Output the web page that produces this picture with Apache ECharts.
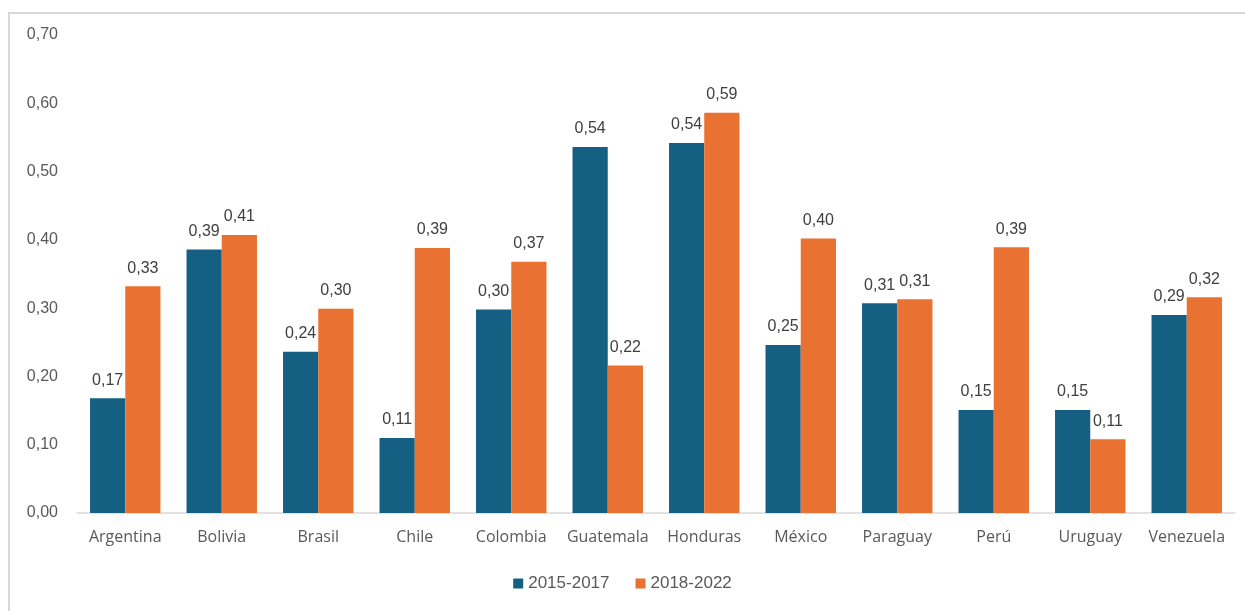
<!DOCTYPE html>
<html>
<head>
<meta charset="utf-8">
<script src="https://cdn.jsdelivr.net/npm/echarts@6/dist/echarts.min.js"></script>
<style>
  html, body { margin: 0; padding: 0; background: #fff; }
  #frame {
    position: absolute; left: 8px; top: 12px; width: 1250px; height: 620px;
    border: 2px solid #d9d9d9; box-sizing: border-box;
  }
  #chart { position: absolute; left: 0; top: 0; width: 1245px; height: 611px; }
</style>
</head>
<body>
<div id="frame"></div>
<div id="chart"></div>
<script>
// países
var paises = ['Argentina', 'Bolivia', 'Brasil', 'Chile', 'Colombia', 'Guatemala',
  'Honduras', 'México', 'Paraguay', 'Perú', 'Uruguay', 'Venezuela'];
var periodo1 = [0.168, 0.386, 0.236, 0.110, 0.298, 0.536, 0.542, 0.246, 0.307, 0.151, 0.151, 0.290];
var periodo2 = [0.332, 0.407, 0.299, 0.388, 0.368, 0.216, 0.586, 0.402, 0.313, 0.389, 0.108, 0.316];
var nombres = ['2015-2017', '2018-2022'];

function coma(v, d) {
  return v.toFixed(d).replace('.', ',');
}

var myChart = echarts.init(document.getElementById('chart'));
var etiqueta = {
  show: true,
  position: 'top',
  distance: 10,
  color: '#404040',
  fontSize: 16,
  fontFamily: 'Liberation Sans, Arial, sans-serif',
  formatter: function (p) { return coma(p.value, 2); }
};
myChart.setOption({
  animation: false,
  grid: { left: 77, right: 10, top: 35, bottom: 98 },
  legend: {
    bottom: 14,
    left: 'center',
    itemWidth: 10,
    itemHeight: 10,
    itemGap: 26,
    icon: 'rect',
    textStyle: { color: '#595959', fontSize: 17, fontFamily: 'Liberation Sans, Arial, sans-serif' },
    data: nombres
  },
  xAxis: {
    type: 'category',
    data: paises,
    axisLine: { lineStyle: { color: '#d9d9d9', width: 1.5 } },
    axisTick: { show: false },
    axisLabel: { interval: 0, color: '#595959', fontSize: 16, margin: 16, fontFamily: 'Open Sans, sans-serif' }
  },
  yAxis: {
    type: 'value',
    min: 0,
    max: 0.7,
    interval: 0.1,
    splitLine: { show: false },
    axisLine: { show: false },
    axisTick: { show: false },
    axisLabel: {
      color: '#595959', fontSize: 16, margin: 19,
      fontFamily: 'Liberation Sans, Arial, sans-serif',
      formatter: function (v) { return coma(v, 2); }
    }
  },
  series: [
    {
      name: nombres[0], type: 'bar', data: periodo1,
      barGap: '0%', barCategoryGap: '27%',
      itemStyle: { color: '#156082' },
      label: etiqueta
    },
    {
      name: nombres[1], type: 'bar', data: periodo2,
      itemStyle: { color: '#e97132' },
      label: etiqueta
    }
  ]
});
</script>
</body>
</html>
